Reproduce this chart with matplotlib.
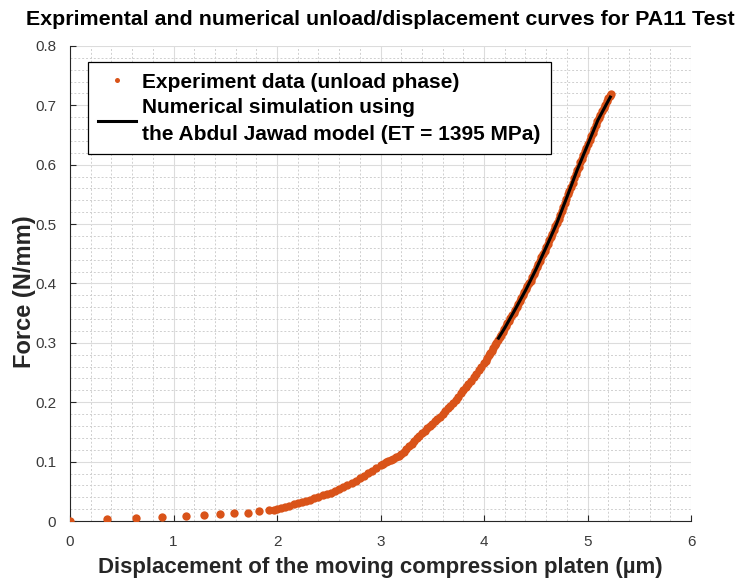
import matplotlib
matplotlib.use("Agg")
import matplotlib.pyplot as plt
from matplotlib.ticker import MultipleLocator

plt.rcParams['font.family'] = ['Liberation Sans', 'DejaVu Sans']

exp_x = [0.00, 0.36, 0.64, 0.89, 1.12, 1.29, 1.45, 1.58, 1.72, 1.83, 1.92, 1.97,
         2.00, 2.04, 2.08, 2.12, 2.16, 2.20, 2.24, 2.28, 2.32, 2.36, 2.40, 2.44, 2.48,
         2.52, 2.56, 2.60, 2.64, 2.68, 2.72, 2.76, 2.80, 2.84, 2.88, 2.92, 2.96, 3.00,
         3.025, 3.05, 3.075, 3.10, 3.125, 3.15, 3.175, 3.20, 3.225, 3.25, 3.275, 3.30,
         3.325, 3.35, 3.375, 3.40, 3.425, 3.45, 3.475, 3.50, 3.525, 3.55, 3.575, 3.60,
         3.625, 3.65, 3.675, 3.70, 3.725, 3.75, 3.775, 3.80, 3.825, 3.85, 3.875, 3.90,
         3.925, 3.95, 3.975, 4.00,
         4.015, 4.030, 4.045, 4.060, 4.075, 4.090, 4.105, 4.120, 4.135, 4.150, 4.165,
         4.180, 4.195, 4.210, 4.225, 4.240, 4.255, 4.270, 4.285, 4.300, 4.315, 4.330,
         4.345, 4.360, 4.375, 4.390, 4.405, 4.420, 4.435, 4.450, 4.465, 4.480, 4.495,
         4.510, 4.525, 4.540, 4.555, 4.570, 4.585, 4.600, 4.615, 4.630, 4.645, 4.660,
         4.675, 4.690, 4.705, 4.720, 4.735, 4.750, 4.765, 4.780, 4.795, 4.810, 4.825,
         4.840, 4.855, 4.870, 4.885, 4.900, 4.915, 4.930, 4.945, 4.960, 4.975, 4.990,
         5.005, 5.020, 5.035, 5.050, 5.065, 5.080, 5.095, 5.110, 5.125, 5.140, 5.155,
         5.170, 5.185, 5.200, 5.215, 5.230]
exp_y = [0.000, 0.003, 0.0045, 0.006, 0.008, 0.0095, 0.011, 0.013, 0.014, 0.017, 0.018, 0.019,
         0.020, 0.022, 0.024, 0.026, 0.028, 0.030, 0.032, 0.034, 0.036, 0.038, 0.040, 0.043, 0.046,
         0.048, 0.051, 0.054, 0.057, 0.060, 0.064, 0.068, 0.072, 0.076, 0.081, 0.085, 0.090, 0.094,
         0.096, 0.099, 0.101, 0.103, 0.105, 0.108, 0.110, 0.113, 0.117, 0.121, 0.126, 0.130,
         0.135, 0.139, 0.144, 0.148, 0.152, 0.156, 0.160, 0.164, 0.168, 0.172, 0.176, 0.180,
         0.185, 0.190, 0.194, 0.199, 0.204, 0.209, 0.215, 0.220, 0.225, 0.231, 0.236, 0.242,
         0.248, 0.254, 0.260, 0.266,
         0.270, 0.274, 0.279, 0.283, 0.287, 0.291, 0.296, 0.300, 0.304, 0.310, 0.314,
         0.319, 0.323, 0.328, 0.333, 0.337, 0.342, 0.347, 0.351, 0.356, 0.361, 0.366,
         0.370, 0.375, 0.380, 0.385, 0.390, 0.395, 0.400, 0.405, 0.411, 0.416, 0.421,
         0.427, 0.432, 0.438, 0.444, 0.450, 0.455, 0.461, 0.467, 0.473, 0.478, 0.484,
         0.490, 0.496, 0.502, 0.509, 0.516, 0.522, 0.529, 0.536, 0.543, 0.550, 0.556,
         0.563, 0.570, 0.577, 0.584, 0.591, 0.597, 0.604, 0.610, 0.616, 0.623, 0.629,
         0.635, 0.641, 0.648, 0.654, 0.660, 0.667, 0.673, 0.679, 0.684, 0.690, 0.695,
         0.701, 0.707, 0.712, 0.716, 0.719]

# Numerical simulation (Abdul Jawad model)
sim_x = [4.14, 4.20, 4.30, 4.40, 4.50, 4.60, 4.70, 4.80, 4.90, 5.00, 5.10, 5.22]
sim_y = [0.308, 0.325, 0.356, 0.388, 0.423, 0.461, 0.500, 0.545, 0.591, 0.633, 0.675, 0.714]

x_ticks = [0, 1, 2, 3, 4, 5, 6]
y_ticks = [0, 0.1, 0.2, 0.3, 0.4, 0.5, 0.6, 0.7, 0.8]
y_tick_labels = ['0', '0.1', '0.2', '0.3', '0.4', '0.5', '0.6', '0.7', '0.8']

orange = '#D95319'
axis_col = '#262626'

fig = plt.figure(figsize=(7.37, 5.82), dpi=100)
ax = fig.add_axes([0.095, 0.1048, 0.8426, 0.8162])

ax.plot(exp_x, exp_y, linestyle='none', marker='o', markersize=6,
        markeredgewidth=0, color=orange, label='Experiment data (unload phase)', zorder=3)
ax.plot(sim_x, sim_y, color='black', linewidth=2.2,
        label='Numerical simulation using\nthe Abdul Jawad model (ET = 1395 MPa)', zorder=4)

ax.set_xlim(0, 6)
ax.set_ylim(0, 0.8)
ax.set_xticks(x_ticks)
ax.set_yticks(y_ticks)
ax.set_yticklabels(y_tick_labels)
ax.xaxis.set_minor_locator(MultipleLocator(0.2))
ax.yaxis.set_minor_locator(MultipleLocator(0.02))

ax.grid(True, which='major', color='#dcdcdc', linewidth=0.8, linestyle='-')
ax.grid(True, which='minor', color='#cfcfcf', linewidth=0.7, linestyle=(0, (2, 2)))
ax.set_axisbelow(True)

for s in ['top', 'right']:
    ax.spines[s].set_visible(False)
for s in ['left', 'bottom']:
    ax.spines[s].set_color(axis_col)
    ax.spines[s].set_linewidth(0.8)

ax.tick_params(which='major', direction='in', length=4, width=0.8, colors=axis_col,
               labelsize=11)
ax.tick_params(axis='x', which='major', pad=10)
ax.tick_params(axis='y', which='major', pad=10)
ax.tick_params(which='minor', length=0)
for lab in ax.get_xticklabels() + ax.get_yticklabels():
    lab.set_color('#3a3a3a')

ax.set_xlabel('Displacement of the moving compression platen (µm)', fontsize=16,
              fontweight='bold', color=axis_col, labelpad=6)
ax.set_ylabel('Force (N/mm)', fontsize=17, fontweight='bold', color=axis_col)
ax.yaxis.set_label_coords(-0.055, 0.483)
ax.set_title('Exprimental and numerical unload/displacement curves for PA11 Test',
             fontsize=15.4, fontweight='bold', color='black', pad=15)

leg = ax.legend(loc='upper left', bbox_to_anchor=(0.029, 0.966),
                prop={'weight': 'bold', 'size': 15}, frameon=True, fancybox=False,
                edgecolor='black', framealpha=1, borderpad=0.5, handlelength=1.8,
                handletextpad=0.3, labelspacing=0.3, markerscale=0.6, borderaxespad=0)
leg.get_frame().set_linewidth(0.9)
for t in leg.get_texts():
    t.set_linespacing(1.55)

fig.savefig('out.png', dpi=100)
